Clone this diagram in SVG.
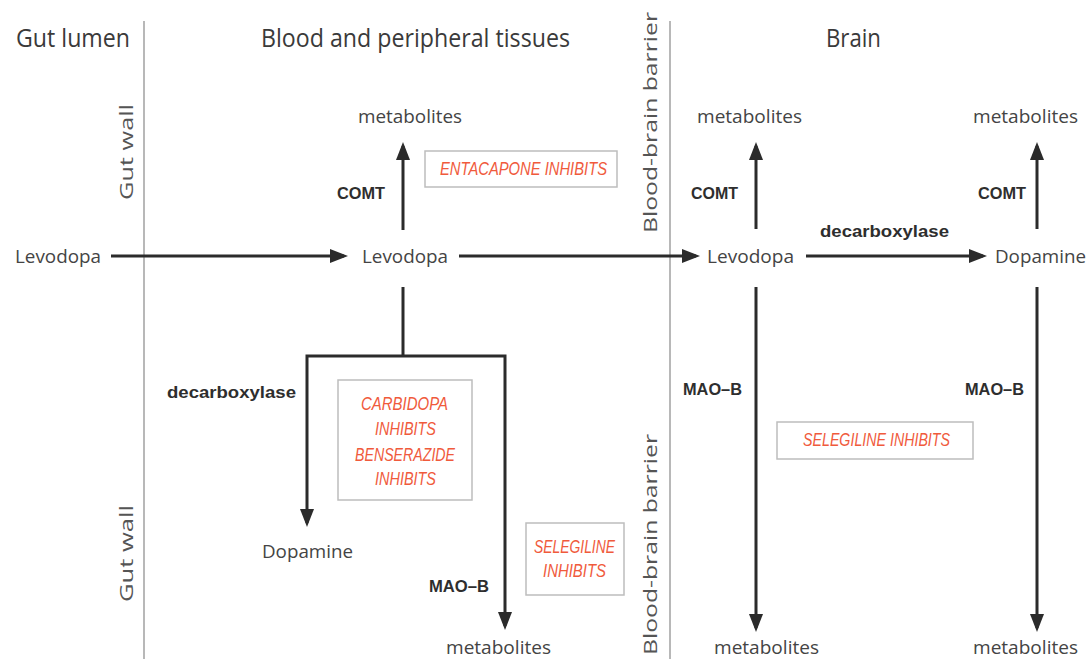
<svg xmlns="http://www.w3.org/2000/svg" width="1089" height="659" viewBox="0 0 1089 659">
<defs>
<marker id="ah" viewBox="0 0 18 14" markerUnits="userSpaceOnUse" markerWidth="18" markerHeight="14" refX="14" refY="7" orient="auto">
<path d="M0,0 L18,7 L0,14 z" fill="#2b2b2b"/>
</marker>
</defs>
<style>
.bg{fill:#ffffff}
.div{stroke:#b8b8b8;stroke-width:2;fill:none}
.title{font-family:"Open Sans","Liberation Sans",sans-serif;font-size:26px;fill:#3a3a3a}
.side{font-family:"Open Sans","Liberation Sans",sans-serif;font-size:19px;fill:#555555}
.lbl{font-family:"Open Sans","Liberation Sans",sans-serif;font-size:19px;fill:#444444}
.enz{font-family:"Liberation Sans",Arial,sans-serif;font-size:17px;font-weight:bold;fill:#2e2e2e}
.inh{font-family:"Liberation Sans",Arial,sans-serif;font-size:18px;font-style:italic;fill:#f05a3c}
.box{fill:#ffffff;stroke:#bdbdbd;stroke-width:1.5}
.arr{stroke:#2b2b2b;stroke-width:3;fill:none}
.arrh{stroke:#2b2b2b;stroke-width:3;fill:none;marker-end:url(#ah)}
</style>
<rect class="bg" x="0" y="0" width="1089" height="659"/>

<g id="regions">
<line class="div" x1="144" y1="21" x2="144" y2="659"/>
<line class="div" x1="670" y1="21" x2="670" y2="659"/>
<text class="title" x="16" y="47" textLength="114" lengthAdjust="spacingAndGlyphs">Gut lumen</text>
<text class="title" x="261" y="47" textLength="309" lengthAdjust="spacingAndGlyphs">Blood and peripheral tissues</text>
<text class="title" x="826" y="47" textLength="55" lengthAdjust="spacingAndGlyphs">Brain</text>
<text class="side" transform="translate(133,200) rotate(-90)" textLength="96" lengthAdjust="spacingAndGlyphs">Gut wall</text>
<text class="side" transform="translate(133,602) rotate(-90)" textLength="97" lengthAdjust="spacingAndGlyphs">Gut wall</text>
<text class="side" transform="translate(657,233) rotate(-90)" textLength="221" lengthAdjust="spacingAndGlyphs">Blood-brain barrier</text>
<text class="side" transform="translate(657,655) rotate(-90)" textLength="221" lengthAdjust="spacingAndGlyphs">Blood-brain barrier</text>
</g>

<g id="connectors">
<line class="arrh" x1="111" y1="256" x2="344" y2="256"/>
<line class="arrh" x1="459" y1="256" x2="696" y2="256"/>
<line class="arrh" x1="806" y1="256" x2="983" y2="256"/>
<line class="arrh" x1="403" y1="230" x2="403" y2="146"/>
<line class="arrh" x1="756" y1="229" x2="756" y2="146"/>
<line class="arrh" x1="1037" y1="229" x2="1037" y2="146"/>
<line class="arr" x1="403" y1="287" x2="403" y2="356"/>
<path class="arrh" d="M403,356 H307 V523"/>
<path class="arrh" d="M403,356 H505 V626"/>
<line class="arrh" x1="756" y1="287" x2="756" y2="628"/>
<line class="arrh" x1="1037" y1="287" x2="1037" y2="628"/>
</g>

<g id="labels">
<text class="enz" x="337" y="199" textLength="48" lengthAdjust="spacingAndGlyphs">COMT</text>
<text class="enz" x="691" y="199" textLength="47" lengthAdjust="spacingAndGlyphs">COMT</text>
<text class="enz" x="978" y="199" textLength="48" lengthAdjust="spacingAndGlyphs">COMT</text>
<text class="enz" x="820" y="237" textLength="129" lengthAdjust="spacingAndGlyphs">decarboxylase</text>
<text class="enz" x="167" y="398" textLength="129" lengthAdjust="spacingAndGlyphs">decarboxylase</text>
<text class="enz" x="429" y="592" textLength="60" lengthAdjust="spacingAndGlyphs">MAO–B</text>
<text class="enz" x="683" y="395" textLength="59" lengthAdjust="spacingAndGlyphs">MAO–B</text>
<text class="enz" x="965" y="395" textLength="59" lengthAdjust="spacingAndGlyphs">MAO–B</text>
</g>

<g id="node-levodopa-gut"><text class="lbl" x="15" y="263" textLength="86" lengthAdjust="spacingAndGlyphs">Levodopa</text></g>
<g id="node-levodopa-blood"><text class="lbl" x="362" y="263" textLength="86" lengthAdjust="spacingAndGlyphs">Levodopa</text></g>
<g id="node-levodopa-brain"><text class="lbl" x="707" y="263" textLength="87" lengthAdjust="spacingAndGlyphs">Levodopa</text></g>
<g id="node-dopamine-brain"><text class="lbl" x="995" y="263" textLength="91" lengthAdjust="spacingAndGlyphs">Dopamine</text></g>
<g id="node-dopamine-blood"><text class="lbl" x="262" y="558" textLength="91" lengthAdjust="spacingAndGlyphs">Dopamine</text></g>
<g id="node-metabolites-blood-top"><text class="lbl" x="358" y="123" textLength="104" lengthAdjust="spacingAndGlyphs">metabolites</text></g>
<g id="node-metabolites-brain-l-top"><text class="lbl" x="697" y="123" textLength="105" lengthAdjust="spacingAndGlyphs">metabolites</text></g>
<g id="node-metabolites-brain-r-top"><text class="lbl" x="973" y="123" textLength="105" lengthAdjust="spacingAndGlyphs">metabolites</text></g>
<g id="node-metabolites-blood-bottom"><text class="lbl" x="446" y="654" textLength="105" lengthAdjust="spacingAndGlyphs">metabolites</text></g>
<g id="node-metabolites-brain-l-bottom"><text class="lbl" x="714" y="654" textLength="105" lengthAdjust="spacingAndGlyphs">metabolites</text></g>
<g id="node-metabolites-brain-r-bottom"><text class="lbl" x="973" y="654" textLength="105" lengthAdjust="spacingAndGlyphs">metabolites</text></g>

<g id="node-entacapone">
<rect class="box" x="425" y="151" width="192" height="36"/>
<text class="inh" x="440" y="175" textLength="167" lengthAdjust="spacingAndGlyphs">ENTACAPONE INHIBITS</text>
</g>
<g id="node-carbidopa">
<rect class="box" x="338" y="380" width="134" height="120"/>
<text class="inh" x="361" y="410" textLength="87" lengthAdjust="spacingAndGlyphs">CARBIDOPA</text>
<text class="inh" x="375" y="435" textLength="61" lengthAdjust="spacingAndGlyphs">INHIBITS</text>
<text class="inh" x="355" y="461" textLength="100" lengthAdjust="spacingAndGlyphs">BENSERAZIDE</text>
<text class="inh" x="375" y="485" textLength="61" lengthAdjust="spacingAndGlyphs">INHIBITS</text>
</g>
<g id="node-selegiline-blood">
<rect class="box" x="526" y="523" width="98" height="72"/>
<text class="inh" x="534" y="553" textLength="81" lengthAdjust="spacingAndGlyphs">SELEGILINE</text>
<text class="inh" x="543" y="577" textLength="63" lengthAdjust="spacingAndGlyphs">INHIBITS</text>
</g>
<g id="node-selegiline-brain">
<rect class="box" x="777" y="422" width="196" height="37"/>
<text class="inh" x="803" y="446" textLength="147" lengthAdjust="spacingAndGlyphs">SELEGILINE INHIBITS</text>
</g>
</svg>
